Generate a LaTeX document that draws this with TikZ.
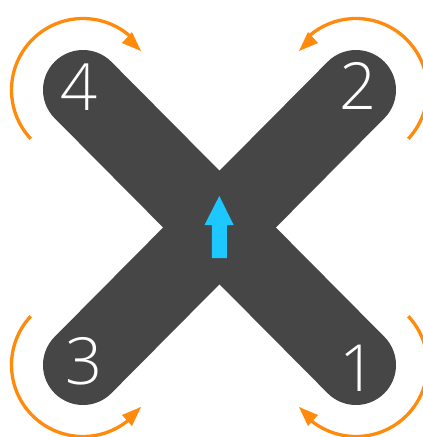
\documentclass[tikz,border=0pt]{standalone}
\usepackage{fontspec}
\setmainfont{Open Sans}[UprightFont=* Light]
\definecolor{armc}{HTML}{464646}
\definecolor{orangec}{HTML}{FF8A0C}
\definecolor{cyanc}{HTML}{1CC8FF}
\tikzset{
  arm/.style={draw=armc,line width=80pt,line cap=round},
  turn/.style={draw=orangec,line width=3.3pt},
  turnhead/.style={fill=orangec,draw=none},
  digit/.style={text=white,font=\fontsize{65}{65}\selectfont,inner sep=0pt,anchor=base}
}
\begin{document}
\begin{tikzpicture}[x=1pt,y=-1pt]
\useasboundingbox (0,0) rectangle (423,437);
\fill[white] (0,0) rectangle (423,437);
\coordinate (e4) at (83,90);
\coordinate (e2) at (356,90);
\coordinate (e3) at (83,365);
\coordinate (e1) at (356,365);
\draw[arm] (e4) -- (e1);
\draw[arm] (e3) -- (e2);
% rotation arcs
\begin{scope}
\clip (0,0) rectangle (423,437);
\draw[turn] (e4) ++(137:71.5) arc[start angle=137,end angle=312,radius=71.5];
\draw[turn] (e2) ++(43:71.5) arc[start angle=43,end angle=-132,radius=71.5];
\draw[turn] (e3) ++(223:71.5) arc[start angle=223,end angle=48,radius=71.5];
\draw[turn] (e1) ++(-43:71.5) arc[start angle=-43,end angle=132,radius=71.5];
\end{scope}
\fill[turnhead] (141,51) -- (132,32) -- (122,43) -- cycle;
\fill[turnhead] (299,51) -- (308,32) -- (318,43) -- cycle;
\fill[turnhead] (141,407) -- (132,426) -- (122,415) -- cycle;
\fill[turnhead] (299,407) -- (308,426) -- (318,415) -- cycle;
% digits
\node[digit] (n4) at (79.5,110) {4};
\node[digit] (n2) at (358,109) {2};
\node[digit] (n3) at (84.5,384) {3};
\node[digit] (n1) at (358,391) {1};
% direction arrow
\fill[cyanc] (219.3,196) -- (233.7,225) -- (226.8,225) -- (226.8,258) -- (211.8,258) -- (211.8,225) -- (204.5,225) -- cycle;
\end{tikzpicture}
\end{document}
